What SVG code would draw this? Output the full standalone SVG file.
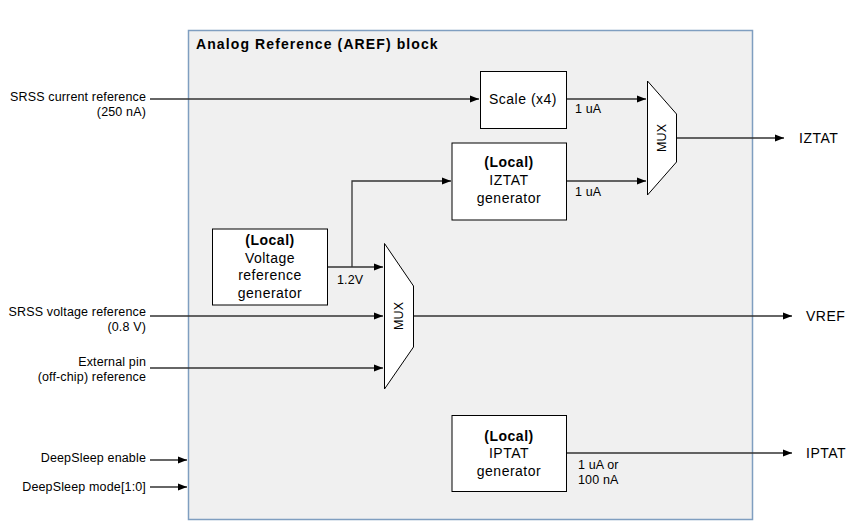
<svg xmlns="http://www.w3.org/2000/svg" width="865" height="527" viewBox="0 0 865 527">
<style>
text{font-family:"Liberation Sans",Arial,sans-serif;fill:#000}
.lbl{font-size:12.5px;letter-spacing:0.15px}
.node{font-size:14px;text-anchor:middle;letter-spacing:0.5px}
.b{font-weight:bold}
.box{fill:#fff;stroke:#000;stroke-width:1}
.ln{fill:none;stroke:#333;stroke-width:1.3}
.r{text-anchor:end}
.s{text-anchor:start}
</style>
<defs>
<marker id="ah" markerWidth="10" markerHeight="8" refX="9" refY="4" orient="auto" markerUnits="userSpaceOnUse">
<path d="M0,0.5 L9,4 L0,7.5 Z" fill="#000"/>
</marker>
</defs>
<rect width="865" height="527" fill="#fff"/>
<g id="aref-block">
<rect x="188.5" y="30.5" width="564" height="489" fill="#f0f0f0" stroke="#7f9ec0" stroke-width="1.5"/>
<text x="196" y="49" font-size="14" class="b" letter-spacing="1.1">Analog Reference (AREF) block</text>
</g>
<g id="connectors">
<path class="ln" d="M150,99 H479" marker-end="url(#ah)"/>
<path class="ln" d="M567,99 H646" marker-end="url(#ah)"/>
<path class="ln" d="M567,181 H646" marker-end="url(#ah)"/>
<path class="ln" d="M677,138 H784" marker-end="url(#ah)"/>
<path class="ln" d="M328,267 H383" marker-end="url(#ah)"/>
<path class="ln" d="M352,267 V181 H451" marker-end="url(#ah)"/>
<path class="ln" d="M150,316 H383" marker-end="url(#ah)"/>
<path class="ln" d="M150,368 H383" marker-end="url(#ah)"/>
<path class="ln" d="M413,316 H792" marker-end="url(#ah)"/>
<path class="ln" d="M150,460 H187" marker-end="url(#ah)"/>
<path class="ln" d="M150,487 H187" marker-end="url(#ah)"/>
<path class="ln" d="M567,453 H792" marker-end="url(#ah)"/>
<text x="575" y="113" class="lbl">1 uA</text>
<text x="575" y="196" class="lbl">1 uA</text>
<text x="337" y="284" class="lbl">1.2V</text>
<text x="578" y="469" class="lbl">1 uA or</text>
<text x="578" y="484" class="lbl">100 nA</text>
</g>
<g id="in-srss-current">
<text x="146" y="101" class="lbl r">SRSS current reference</text>
<text x="146" y="116" class="lbl r">(250 nA)</text>
</g>
<g id="in-srss-voltage">
<text x="146" y="316" class="lbl r">SRSS voltage reference</text>
<text x="146" y="331" class="lbl r">(0.8 V)</text>
</g>
<g id="in-external">
<text x="146" y="366" class="lbl r">External pin</text>
<text x="146" y="381" class="lbl r">(off-chip) reference</text>
</g>
<g id="in-ds-enable"><text x="146" y="462" class="lbl r">DeepSleep enable</text></g>
<g id="in-ds-mode"><text x="146" y="491" class="lbl r">DeepSleep mode[1:0]</text></g>
<g id="scale">
<rect class="box" x="480.5" y="71.5" width="86" height="57"/>
<text x="523" y="104" class="node">Scale (x4)</text>
</g>
<g id="iztat-gen">
<rect class="box" x="452" y="143" width="114.5" height="77"/>
<text x="509" y="167" class="node b">(Local)</text>
<text x="509" y="185" class="node">IZTAT</text>
<text x="509" y="203" class="node">generator</text>
</g>
<g id="mux-iztat">
<path class="box" d="M647.5,81 L676.5,114 V162 L647.5,195 Z"/>
<text transform="translate(666,138) rotate(-90)" class="lbl" text-anchor="middle">MUX</text>
</g>
<g id="vref-gen">
<rect class="box" x="212.5" y="229" width="115" height="76"/>
<text x="270" y="245" class="node b">(Local)</text>
<text x="270" y="263" class="node">Voltage</text>
<text x="270" y="280" class="node">reference</text>
<text x="270" y="298" class="node">generator</text>
</g>
<g id="mux-vref">
<path class="box" d="M384.5,243.5 L413.5,286 V347 L384.5,389 Z"/>
<text transform="translate(403,316) rotate(-90)" class="lbl" text-anchor="middle">MUX</text>
</g>
<g id="iptat-gen">
<rect class="box" x="452" y="415.5" width="114.5" height="76"/>
<text x="509" y="441" class="node b">(Local)</text>
<text x="509" y="458" class="node">IPTAT</text>
<text x="509" y="476" class="node">generator</text>
</g>
<g id="out-iztat"><text x="799" y="143" class="node s">IZTAT</text></g>
<g id="out-vref"><text x="806" y="321" class="node s">VREF</text></g>
<g id="out-iptat"><text x="806" y="458" class="node s">IPTAT</text></g>
</svg>
